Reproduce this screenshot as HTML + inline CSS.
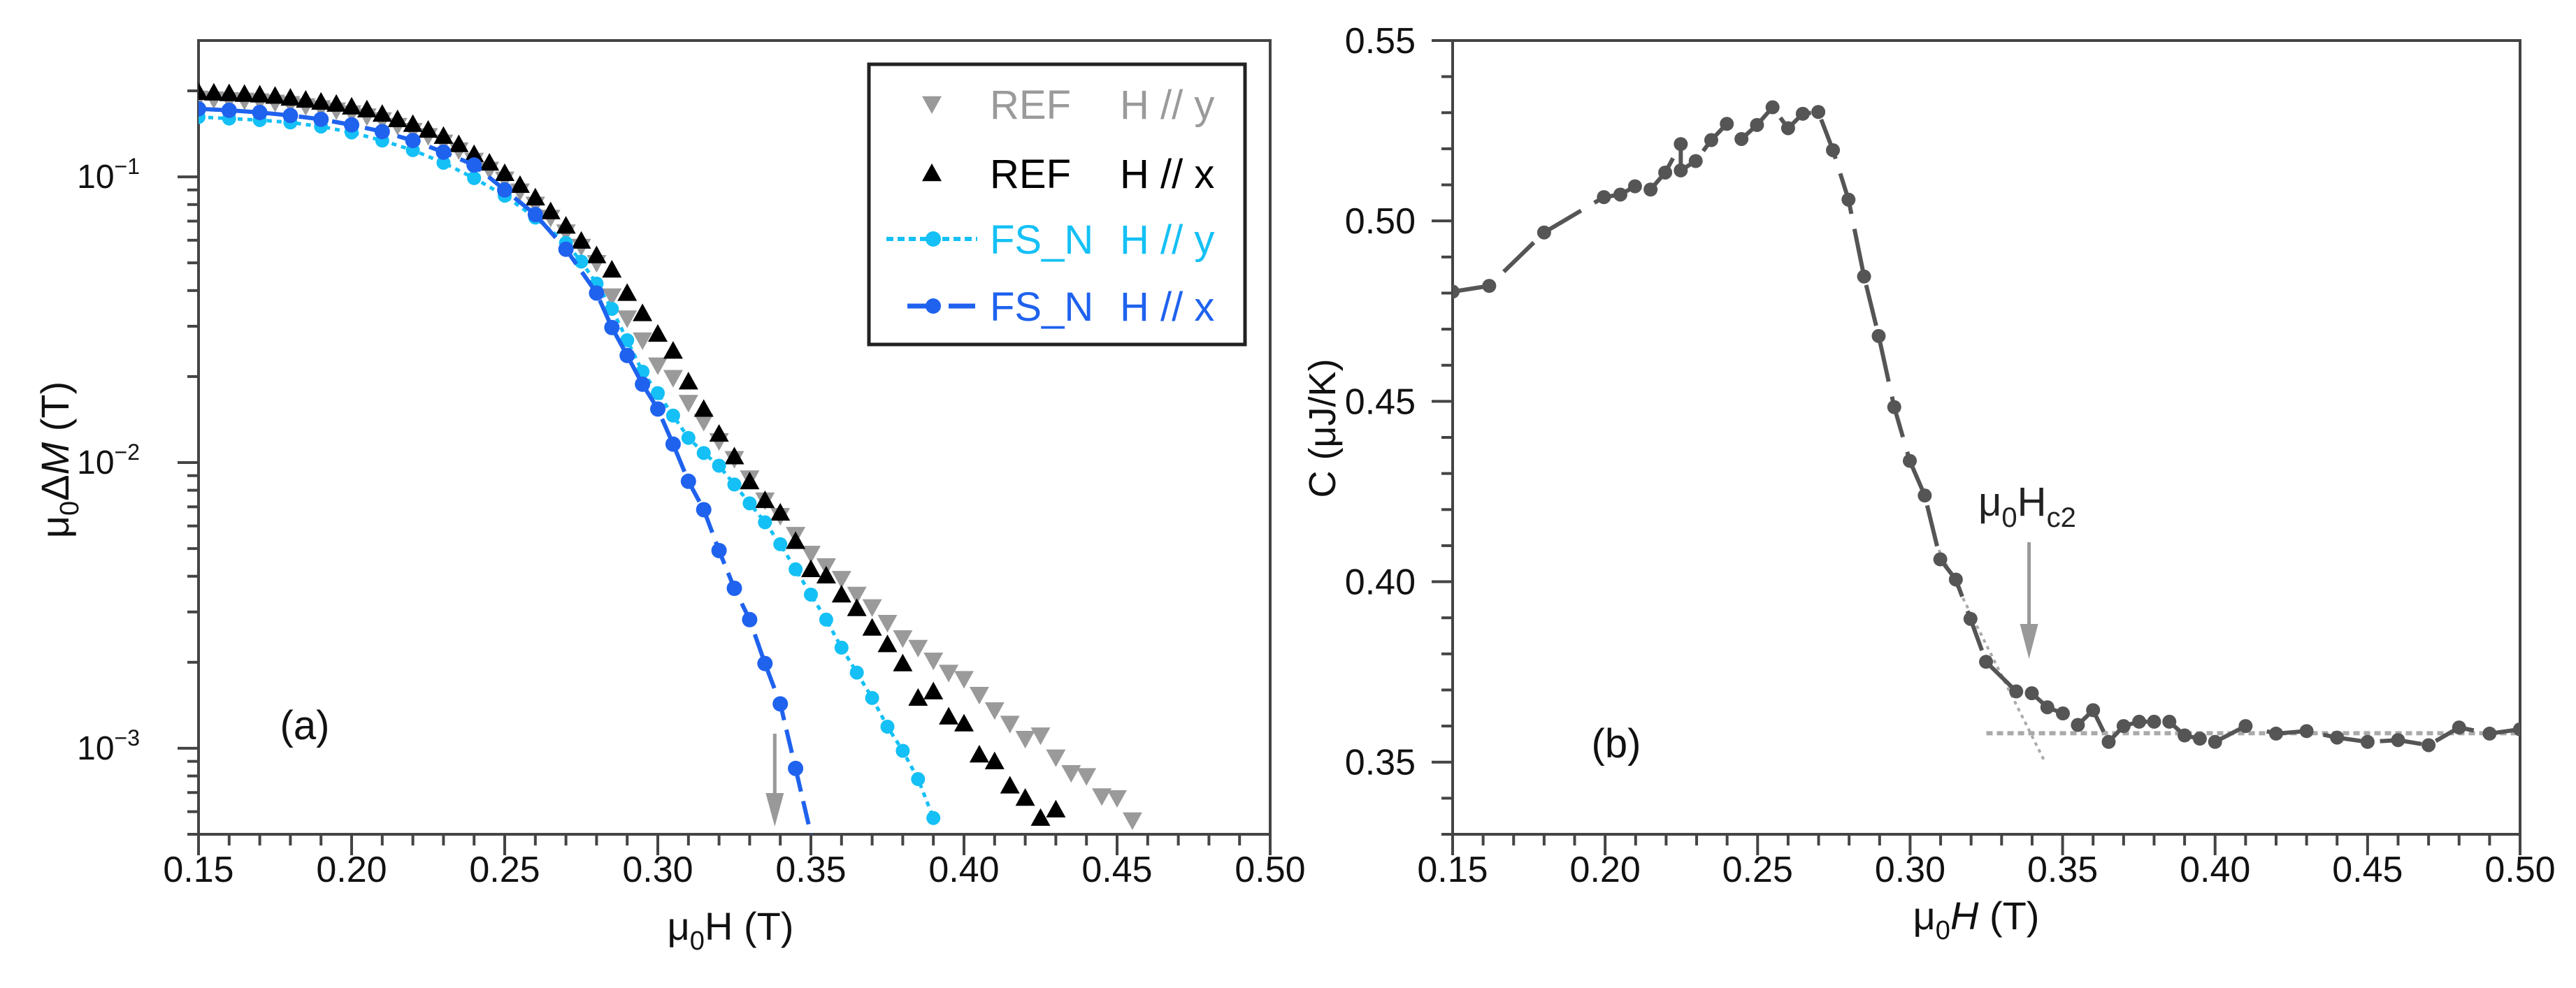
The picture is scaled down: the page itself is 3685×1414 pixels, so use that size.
<!DOCTYPE html>
<html><head><meta charset="utf-8"><style>
html,body{margin:0;padding:0;background:#fff;}
svg{display:block;font-family:"Liberation Sans",Arial,sans-serif;}
</style></head><body>
<svg id="fig" xmlns="http://www.w3.org/2000/svg" width="3685" height="1414" viewBox="0 0 3685 1414">
<g id="pa"></g>
<g id="pb"></g>
</svg>
<script>
// ---------- Panel (a) data ----------
const refXH = [0.15,0.155,0.16,0.165,0.17,0.175,0.18,0.185,0.19,0.195,0.2,0.205,0.21,0.215,0.22,0.225,0.23,0.235,0.24,0.245,0.25,0.255,0.26,0.265,0.27,0.275,0.28,0.285,0.29,0.295,0.3,0.305,0.31,0.315,0.32,0.325,0.33,0.335,0.34,0.345,0.35,0.355,0.36,0.365,0.37,0.375,0.38,0.385,0.39,0.395,0.4,0.405,0.41,0.415,0.42,0.425,0.43];
const refXVal = [0.198,0.197,0.196,0.195,0.194,0.192,0.189,0.186,0.183,0.180,0.176,0.172,0.166,0.159,0.153,0.146,0.139,0.130,0.120,0.112,0.103,0.0936,0.0846,0.0757,0.0674,0.0597,0.0531,0.0473,0.0392,0.0333,0.0282,0.0246,0.0192,0.0154,0.0126,0.0105,0.00859,0.00738,0.00667,0.00531,0.00423,0.00402,0.00345,0.00309,0.00264,0.00231,0.00198,0.00150,0.00158,0.00129,0.00122,0.00095,0.00090,0.00074,0.00067,0.00057,0.00061];
const refYH = [0.15,0.155,0.16,0.165,0.17,0.175,0.18,0.185,0.19,0.195,0.2,0.205,0.21,0.215,0.22,0.225,0.23,0.235,0.24,0.245,0.25,0.255,0.26,0.265,0.27,0.275,0.28,0.285,0.29,0.295,0.3,0.305,0.31,0.315,0.32,0.325,0.33,0.335,0.34,0.345,0.35,0.355,0.36,0.365,0.37,0.375,0.38,0.385,0.39,0.395,0.4,0.405,0.41,0.415,0.42,0.425,0.43,0.435,0.44,0.445,0.45,0.455];
const refYVal = [0.188,0.187,0.186,0.185,0.184,0.182,0.180,0.177,0.174,0.171,0.167,0.163,0.158,0.151,0.145,0.139,0.132,0.124,0.114,0.106,0.098,0.089,0.080,0.072,0.064,0.057,0.050,0.0382,0.032,0.0268,0.0219,0.0198,0.0162,0.0139,0.0119,0.0103,0.00881,0.00738,0.00651,0.00559,0.0048,0.00434,0.00392,0.00345,0.00312,0.00275,0.00243,0.00225,0.00203,0.00184,0.00175,0.00154,0.00136,0.00122,0.00108,0.00111,0.00093,0.00082,0.00080,0.00068,0.00067,0.00056];
const fsyH = [0.15,0.16,0.17,0.18,0.19,0.2,0.21,0.22,0.23,0.24,0.25,0.26,0.27,0.275,0.28,0.285,0.29,0.295,0.3,0.305,0.31,0.315,0.32,0.325,0.33,0.335,0.34,0.345,0.35,0.355,0.36,0.365,0.37,0.375,0.38,0.385,0.39];
const fsyVal = [0.162,0.160,0.158,0.155,0.150,0.143,0.134,0.124,0.112,0.099,0.0859,0.0720,0.0587,0.0505,0.0423,0.0345,0.0268,0.0208,0.0175,0.0146,0.0122,0.0108,0.00975,0.00838,0.00720,0.00618,0.00518,0.00423,0.00345,0.00282,0.00225,0.00184,0.00150,0.00119,0.00098,0.00078,0.00057];
const fsxH = [0.15,0.16,0.17,0.18,0.19,0.2,0.21,0.22,0.23,0.24,0.25,0.26,0.27,0.28,0.285,0.29,0.295,0.3,0.305,0.31,0.315,0.32,0.325,0.33,0.335,0.34,0.345];
const fsxVal = [0.173,0.171,0.168,0.164,0.159,0.152,0.144,0.134,0.122,0.110,0.090,0.0738,0.0558,0.0392,0.0297,0.0237,0.0188,0.0154,0.0116,0.0086,0.00684,0.00492,0.00363,0.00282,0.00198,0.00143,0.00085];
const aXTicks = ["0.15","0.20","0.25","0.30","0.35","0.40","0.45","0.50"];
const aYDecades = [-1,-2,-3];

// ---------- Panel (b) data ----------
const cH = [0.15,0.162,0.18,0.1996,0.205,0.2098,0.2149,0.2197,0.2248,0.2248,0.2297,0.2348,0.2399,0.2447,0.2498,0.2549,0.26,0.2648,0.2699,0.2747,0.2798,0.2849,0.2897,0.2948,0.2999,0.3048,0.3099,0.315,0.3198,0.3249,0.3348,0.3399,0.345,0.3501,0.355,0.36,0.3651,0.37,0.3751,0.38,0.385,0.39,0.395,0.40,0.41,0.42,0.43,0.44,0.45,0.46,0.47,0.48,0.49,0.50];
const cVal = [0.4804,0.482,0.4968,0.5066,0.5073,0.5096,0.5087,0.5134,0.5213,0.514,0.5166,0.5224,0.5269,0.5227,0.5266,0.5315,0.5257,0.5297,0.5302,0.5196,0.5059,0.4846,0.4681,0.4484,0.4335,0.4239,0.4062,0.4006,0.3897,0.3778,0.3696,0.3691,0.3652,0.3635,0.3603,0.3644,0.3556,0.3600,0.3612,0.3612,0.3612,0.3574,0.3565,0.3556,0.36,0.3579,0.3586,0.3568,0.3556,0.3561,0.3547,0.3596,0.3579,0.3591];
const bXTicks = ["0.15","0.20","0.25","0.30","0.35","0.40","0.45","0.50"];
const bYTicks = ["0.35","0.40","0.45","0.50","0.55"];
const baseH = [0.325,0.50]; const baseC = [0.358,0.358];
const tanH = [0.3083,0.344]; const tanC = [0.4107,0.3504];

const NS="http://www.w3.org/2000/svg";
function mk(parent,tag,attrs,text){const e=document.createElementNS(NS,tag);for(const k in attrs)e.setAttribute(k,attrs[k]);if(text!==undefined)e.textContent=text;parent.appendChild(e);return e;}

// ===== Panel A =====
const pa=document.getElementById('pa');
const aL=284,aR=1817,aT=58,aB=1194;
const ax=h=>aL+(h-0.15)/0.35*(aR-aL);
const lmin=Math.log10(5e-4),lmax=Math.log10(0.3);
const ay=v=>aB-(Math.log10(v)-lmin)/(lmax-lmin)*(aB-aT);
const clipA=mk(pa,'clipPath',{id:'clipA'});mk(clipA,'rect',{x:aL,y:aT,width:aR-aL,height:aB-aT});
let f=mk(pa,'rect',{x:aL,y:aT,width:aR-aL,height:aB-aT,fill:'none',stroke:'#444','stroke-width':4});

for(let i=0;i<=35;i++){const h=0.15+i*0.01;const x=ax(h);const maj=(i%5===0);
 const t=mk(pa,'line',{x1:x,y1:aB,x2:x,y2:aB+(maj?30:16),stroke:'#444','stroke-width':4});
 }
aXTicks.forEach((s,i)=>{const t=mk(pa,'text',{x:ax(0.15+i*0.05),y:1262,'font-size':52,'text-anchor':'middle',fill:'#111'},s);
 });
for(let d=-4;d<=-1;d++){for(let m=1;m<=9;m++){const v=m*Math.pow(10,d);if(v<5e-4||v>0.3)continue;const y=ay(v);
 const t=mk(pa,'line',{x1:aL-(m===1?30:16),y1:y,x2:aL,y2:y,stroke:'#444','stroke-width':4});
 }}
aYDecades.forEach(d=>{const y=ay(Math.pow(10,d));const t=mk(pa,'text',{x:200,y:y+16,'font-size':48,'text-anchor':'end',fill:'#111'});
 
 t.textContent='10';const s=mk(t,'tspan',{dy:-20,'font-size':32},'−'+(-d));});
let yl=mk(pa,'text',{transform:'translate(98,658) rotate(-90)','font-size':56,'text-anchor':'middle',fill:'#111'});

yl.innerHTML='μ<tspan dy="14" font-size="38">0</tspan><tspan dy="-14">Δ</tspan><tspan font-style="italic">M</tspan> (T)';
let xl=mk(pa,'text',{x:1045,y:1345,'font-size':56,'text-anchor':'middle',fill:'#111'});

xl.innerHTML='μ<tspan dy="14" font-size="38">0</tspan><tspan dy="-14">H (T)</tspan>';
let la=mk(pa,'text',{x:436,y:1058,'font-size':58,'text-anchor':'middle',fill:'#111'},'(a)');

const gA=mk(pa,'g',{'clip-path':'url(#clipA)'});
function tri(g,x,y,up,col,name){const s=14;const p=up?`${x},${y-s} ${x-s},${y+s*0.8} ${x+s},${y+s*0.8}`:`${x},${y+s} ${x-s},${y-s*0.8} ${x+s},${y-s*0.8}`;
 const e=mk(g,'polygon',{points:p,fill:col});}
function series(g,H,V,col,dash,w,r,name){const pts=H.map((h,i)=>ax(h)+','+ay(V[i])).join(' ');
 const l=mk(g,'polyline',{points:pts,fill:'none',stroke:col,'stroke-width':w,'stroke-dasharray':dash});
 
 H.forEach((h,i)=>{const c=mk(g,'circle',{cx:ax(h),cy:ay(V[i]),r:r,fill:col});});}
refYH.forEach((h,i)=>tri(gA,ax(h),ay(refYVal[i]),false,'#9a9a9a','ref-hy-point'));
refXH.forEach((h,i)=>tri(gA,ax(h),ay(refXVal[i]),true,'#000','ref-hx-point'));
series(gA,fsyH,fsyVal,'#14c0f5','7 7',5,10,'fsn-hy');
const fsxl=series(gA,fsxH,fsxVal,'#1f62ee','34 14',6,11,'fsn-hx');
let tail=mk(gA,'line',{x1:ax(0.345),y1:ay(0.00085),x2:ax(0.35),y2:aB,stroke:'#1f62ee','stroke-width':6,'stroke-dasharray':'34 14'});

// arrow a
let arA=mk(pa,'g',{});
mk(arA,'line',{x1:ax(0.3382),y1:1050,x2:ax(0.3382),y2:1165,stroke:'#999','stroke-width':5});
mk(arA,'polygon',{points:`${ax(0.3382)-13},1135 ${ax(0.3382)+13},1135 ${ax(0.3382)},1183`,fill:'#999'});
// legend
let lg=mk(pa,'g',{});
mk(lg,'rect',{x:1243,y:92,width:538,height:401,fill:'#fff',stroke:'#222','stroke-width':5});
const rows=[{y:149,c:'#9a9a9a',a:'REF',b:'H // y',k:'tdown'},{y:248,c:'#000',a:'REF',b:'H // x',k:'tup'},{y:342,c:'#14c0f5',a:'FS_N',b:'H // y',k:'dot'},{y:438,c:'#1f62ee',a:'FS_N',b:'H // x',k:'dash'}];
rows.forEach(r=>{const e=mk(lg,'g',{});
 if(r.k==='tdown')tri(e,1333,r.y,false,r.c,'legend-marker');
 if(r.k==='tup')tri(e,1333,r.y,true,r.c,'legend-marker');
 if(r.k==='dot'){mk(e,'line',{x1:1268,y1:r.y,x2:1398,y2:r.y,stroke:r.c,'stroke-width':6,'stroke-dasharray':'10 6'});mk(e,'circle',{cx:1335,cy:r.y,r:11,fill:r.c});}
 if(r.k==='dash'){mk(e,'line',{x1:1298,y1:r.y,x2:1335,y2:r.y,stroke:r.c,'stroke-width':7});mk(e,'line',{x1:1357,y1:r.y,x2:1395,y2:r.y,stroke:r.c,'stroke-width':7});mk(e,'circle',{cx:1335,cy:r.y,r:11,fill:r.c});}
 mk(e,'text',{x:1416,y:r.y+21,'font-size':58,fill:r.c},r.a);
 mk(e,'text',{x:1602,y:r.y+21,'font-size':58,fill:r.c},r.b);});

// ===== Panel B =====
const pb=document.getElementById('pb');
const bL=2078,bR=3605,bT=58,bB=1194;
const bx=h=>bL+(h-0.15)/0.35*(bR-bL);
const by=c=>bB-(c-0.33)/0.22*(bB-bT);
const clipB=mk(pb,'clipPath',{id:'clipB'});mk(clipB,'rect',{x:bL,y:bT,width:bR-bL,height:bB-bT});
f=mk(pb,'rect',{x:bL,y:bT,width:bR-bL,height:bB-bT,fill:'none',stroke:'#444','stroke-width':4});

for(let i=0;i<=35;i++){const x=bx(0.15+i*0.01);const maj=(i%5===0);
 const t=mk(pb,'line',{x1:x,y1:bB,x2:x,y2:bB+(maj?30:16),stroke:'#444','stroke-width':4});
 }
bXTicks.forEach((s,i)=>{const t=mk(pb,'text',{x:bx(0.15+i*0.05),y:1262,'font-size':52,'text-anchor':'middle',fill:'#111'},s);
 });
for(let i=0;i<=22;i++){const c=0.33+i*0.01;const y=by(c);const maj=(i%5===2);
 const t=mk(pb,'line',{x1:bL-(maj?30:16),y1:y,x2:bL,y2:y,stroke:'#444','stroke-width':4});
 }
bYTicks.forEach(s=>{const t=mk(pb,'text',{x:2025,y:by(parseFloat(s))+18,'font-size':52,'text-anchor':'end',fill:'#111'},s);
 });
yl=mk(pb,'text',{transform:'translate(1910,613) rotate(-90)','font-size':54,'text-anchor':'middle',fill:'#111'},'C (μJ/K)');

xl=mk(pb,'text',{x:2827,y:1330,'font-size':56,'text-anchor':'middle',fill:'#111'});

xl.innerHTML='μ<tspan dy="14" font-size="38">0</tspan><tspan dy="-14" font-style="italic">H</tspan> (T)';
let lb=mk(pb,'text',{x:2312,y:1084,'font-size':58,'text-anchor':'middle',fill:'#111'},'(b)');

const gB=mk(pb,'g',{'clip-path':'url(#clipB)'});
let bl=mk(gB,'polyline',{points:baseH.map((h,i)=>bx(h)+','+by(baseC[i])).join(' '),fill:'none',stroke:'#aaa','stroke-width':6,'stroke-dasharray':'9 6'});

let tl=mk(gB,'polyline',{points:tanH.map((h,i)=>bx(h)+','+by(tanC[i])).join(' '),fill:'none',stroke:'#aaa','stroke-width':4,'stroke-dasharray':'5 6'});

let cl=mk(gB,'polyline',{points:cH.map((h,i)=>bx(h)+','+by(cVal[i])).join(' '),fill:'none',stroke:'#555','stroke-width':6,'stroke-dasharray':'60 22'});

cH.forEach((h,i)=>{const c=mk(gB,'circle',{cx:bx(h),cy:by(cVal[i]),r:10,fill:'#555'});
 });
let arB=mk(pb,'g',{});
mk(arB,'line',{x1:bx(0.339),y1:776,x2:bx(0.339),y2:920,stroke:'#999','stroke-width':5});
mk(arB,'polygon',{points:`${bx(0.339)-13},893 ${bx(0.339)+13},893 ${bx(0.339)},943`,fill:'#999'});
let hl=mk(pb,'text',{x:2830,y:738,'font-size':58,fill:'#222'});

hl.innerHTML='μ<tspan dy="16" font-size="40">0</tspan><tspan dy="-16">H</tspan><tspan dy="16" font-size="40">c2</tspan>';
</script>
</body></html>
